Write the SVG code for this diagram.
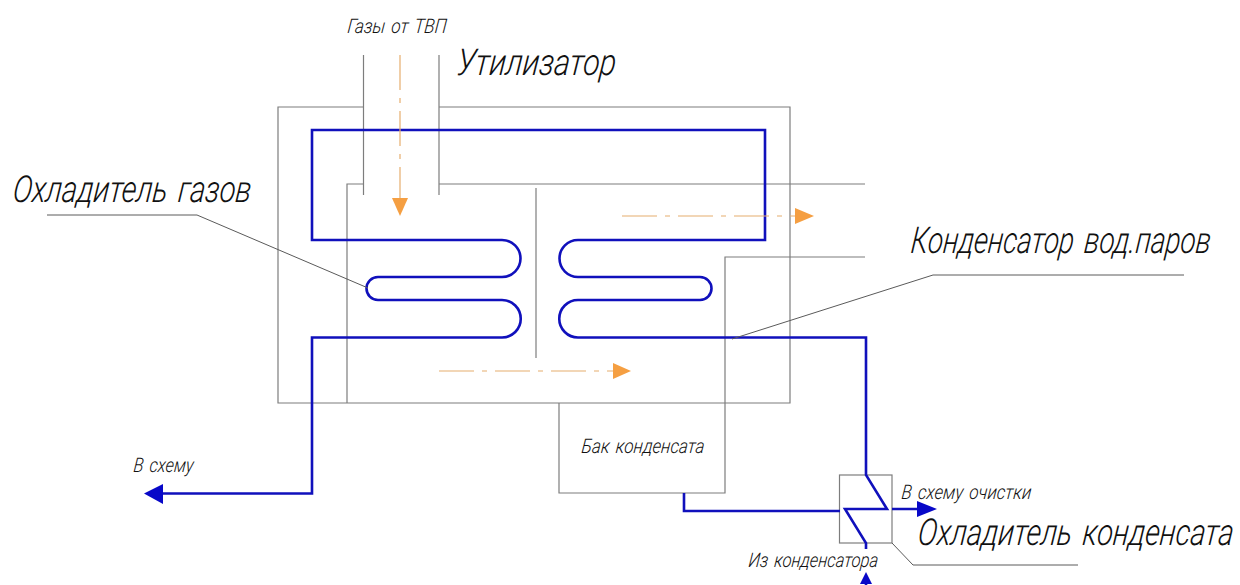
<svg xmlns="http://www.w3.org/2000/svg" width="1240" height="585" viewBox="0 0 1240 585">
<style>
.g{fill:none;stroke:#7d7d7d;stroke-width:1.2}
.l{fill:none;stroke:#5a5a5a;stroke-width:1}
.b{fill:none;stroke:#1010bc;stroke-width:2.6}
.o{fill:none;stroke:#e6ae6e;stroke-width:1.2;stroke-dasharray:35 8 5 8}
.oh{fill:#f59f42}
.bh{fill:#0808c8}
text{font-family:"Roboto","Liberation Sans",sans-serif;font-style:italic;font-weight:300;fill:#111;word-spacing:.12em}
.big{font-size:37px}
.sm{font-size:20px}
</style>
<rect width="1240" height="585" fill="#fff"/>
<g id="utilizer-body">
<path class="g" d="M363 107H278V403H790V107H439"/>
<path class="g" d="M363 184H347V403M439 184H865"/>
<path class="g" d="M363.500 55V195M439 55V195"/>
<path class="g" d="M536 188V358"/>
<path class="g" d="M865 257H725V493H559V403"/>
</g>
<g id="cooler-box"><rect class="g" x="839.500" y="475" width="52.500" height="68"/></g>
<g id="connectors">
<path class="b" d="M160 493.500H312V337.500H502A18.500 18.500 0 0 0 502 300H378A11.500 11.500 0 0 1 378 277H502A18.500 18.500 0 0 0 502 240H312V130H765V240H578A18.500 18.500 0 0 0 578 277H700A11.500 11.500 0 0 1 700 300H578A18.500 18.500 0 0 0 578 337.500H866V475L887 509H845L866 543V549"/>
<path class="b" d="M684 493V511H840M892 509H920M866 580V585"/>
<path class="bh" d="M144 493.500L163 484V504Z"/>
<path class="bh" d="M937 509L917 501V517Z"/>
<path class="bh" d="M866 572L860 584H872Z"/>
<path class="o" d="M400 55V198"/><path class="oh" d="M400 216L392 198H408Z"/>
<path class="o" d="M622 216H795"/><path class="oh" d="M814 216L795 208V224Z"/>
<path class="o" d="M439 371H613"/><path class="oh" d="M631 371L613 363V379Z"/>
<path class="l" d="M47 215H197L368 288"/>
<path class="l" d="M1184 275H933L732 339"/>
<path class="l" d="M892 543L913 565H1078"/>
</g>
<g id="labels">
<text class="sm" transform="translate(347 33) skewX(-6) scale(.75 1)" textLength="132" lengthAdjust="spacingAndGlyphs">Газы от ТВП</text>
<text class="big" transform="translate(456 75) skewX(-6) scale(.75 1)" textLength="212" lengthAdjust="spacingAndGlyphs">Утилизатор</text>
<text class="big" transform="translate(12 202) skewX(-6) scale(.75 1)" textLength="318" lengthAdjust="spacingAndGlyphs">Охладитель газов</text>
<text class="big" transform="translate(910 253) skewX(-6) scale(.75 1)" textLength="400" lengthAdjust="spacingAndGlyphs">Конденсатор вод.паров</text>
<text class="sm" transform="translate(133 472) skewX(-6) scale(.75 1)" textLength="80" lengthAdjust="spacingAndGlyphs">В схему</text>
<text class="sm" transform="translate(581 453) skewX(-6) scale(.75 1)" textLength="164" lengthAdjust="spacingAndGlyphs">Бак конденсата</text>
<text class="sm" transform="translate(901 499) skewX(-6) scale(.75 1)" textLength="173" lengthAdjust="spacingAndGlyphs">В схему очистки</text>
<text class="big" transform="translate(917 545) skewX(-6) scale(.75 1)" textLength="421" lengthAdjust="spacingAndGlyphs">Охладитель конденсата</text>
<text class="sm" transform="translate(748 567) skewX(-6) scale(.75 1)" textLength="173" lengthAdjust="spacingAndGlyphs">Из конденсатора</text>
</g>
</svg>
